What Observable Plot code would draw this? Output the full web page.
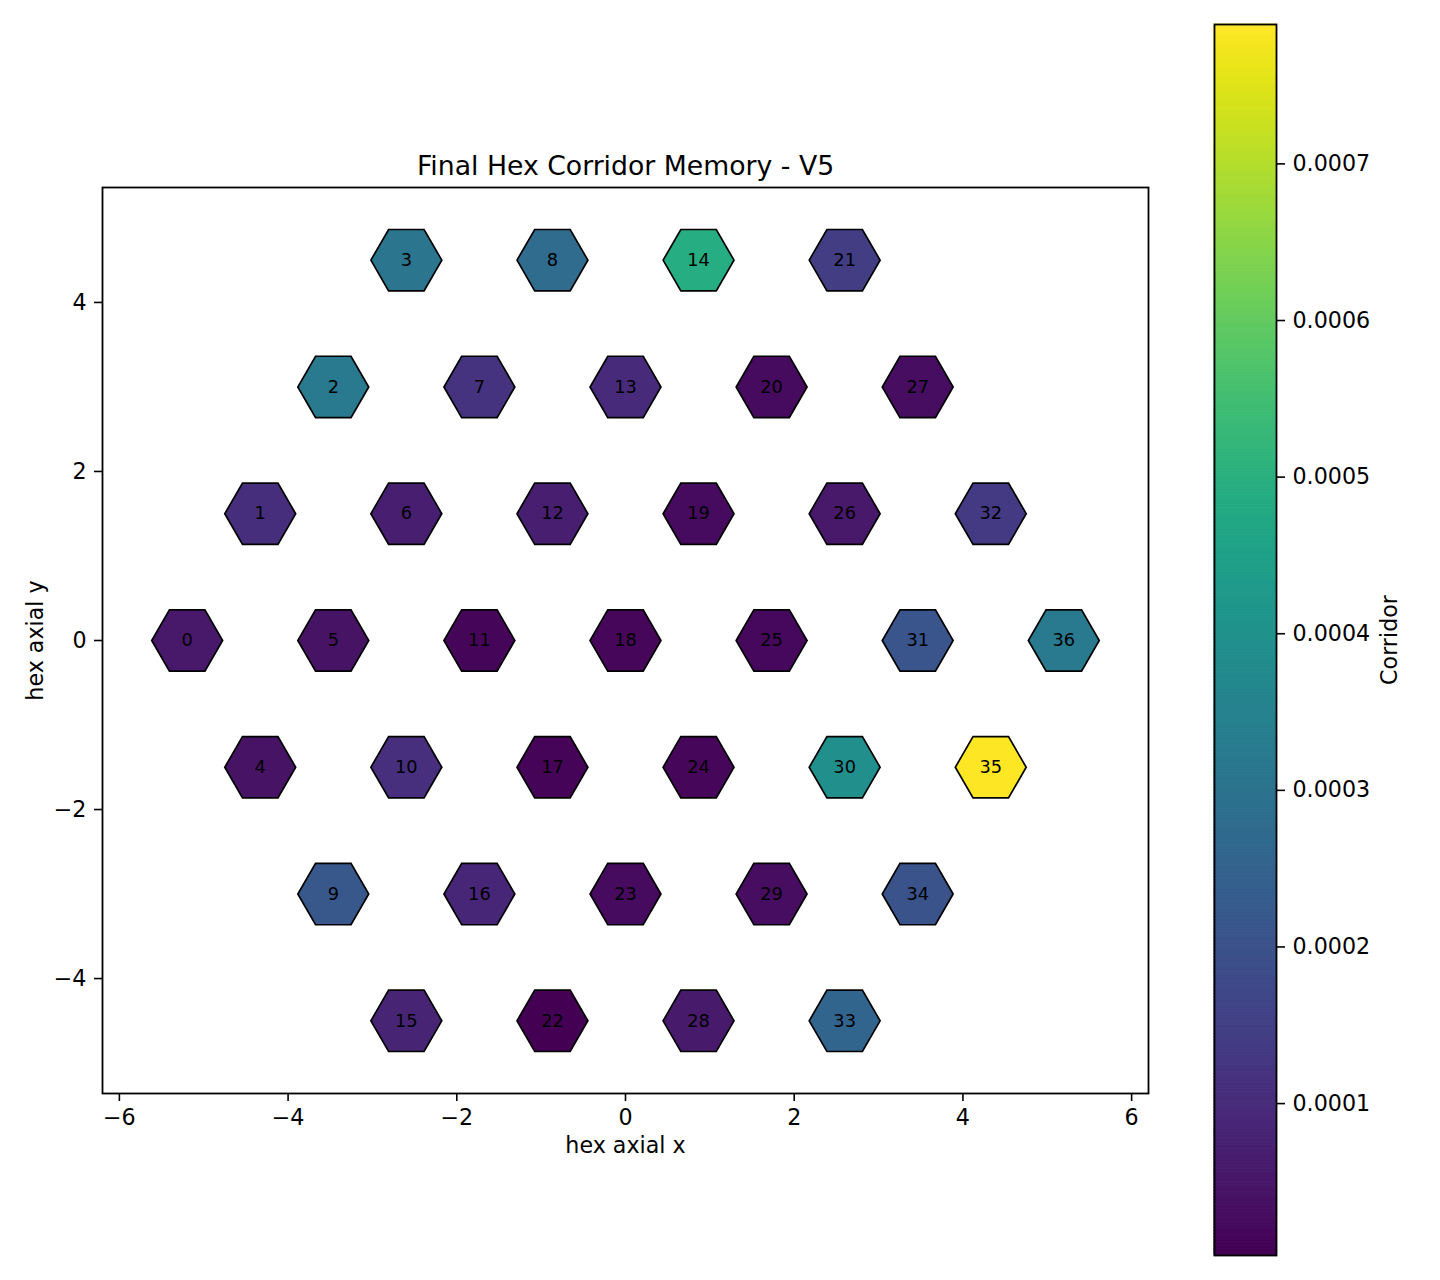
<!DOCTYPE html>
<html><head><meta charset="utf-8">
<script src="https://cdn.jsdelivr.net/npm/d3@7"></script>
<script src="https://cdn.jsdelivr.net/npm/@observablehq/plot@0.6"></script>
<style>
body{margin:0;background:#fff;}
#wrap{position:relative;width:1440px;height:1280px;background:#fff;overflow:hidden;}
#wrap svg{position:absolute;top:0;}
</style></head><body><div id="wrap"></div>
<script>
const chartTitle = "Final Hex Corridor Memory - V5";
const xLabel = "hex axial x";
const yLabel = "hex axial y";
const colorLabel = "Corridor";

const cellIds = [0,1,2,3,4,5,6,7,8,9,10,11,12,13,14,15,16,17,18,19,20,21,22,23,24,25,26,27,28,29,30,31,32,33,34,35,36];
const hexQ = [-3,-3,-3,-3, -2,-2,-2,-2,-2, -1,-1,-1,-1,-1,-1, 0,0,0,0,0,0,0, 1,1,1,1,1,1, 2,2,2,2,2, 3,3,3,3];
const hexR = [0,1,2,3, -1,0,1,2,3, -2,-1,0,1,2,3, -3,-2,-1,0,1,2,3, -3,-2,-1,0,1,2, -3,-2,-1,0,1, -3,-2,-1,0];
const corridor = [
  0.000054, 0.000105, 0.000325, 0.000310, 0.000042, 0.000042, 0.000070, 0.000117, 0.000278, 0.000215,
  0.000109, 0.000015, 0.000070, 0.000097, 0.000490, 0.000082, 0.000086, 0.000011, 0.000017, 0.000027,
  0.000025, 0.000144, 0.000003, 0.000025, 0.000017, 0.000020, 0.000054, 0.000029, 0.000056, 0.000030,
  0.000396, 0.000207, 0.000133, 0.000255, 0.000203, 0.000789, 0.000325
];
const xTicks = [-6, -4, -2, 0, 2, 4, 6];
const yTicks = [-4, -2, 0, 2, 4];
const colorTicks = [0.0001, 0.0002, 0.0003, 0.0004, 0.0005, 0.0006, 0.0007];

const SQ3 = Math.sqrt(3);
const cells = cellIds.map((id, i) => ({
  id,
  x: SQ3 * (hexQ[i] + hexR[i] / 2),
  y: 1.5 * hexR[i],
  value: corridor[i]
}));
const cDomain = d3.extent(corridor);
const FONT = "DejaVu Sans, sans-serif";
const wrap = document.getElementById("wrap");

const main = Plot.plot({
  width: 1180, height: 1280,
  marginLeft: 102, marginRight: 32, marginTop: 187, marginBottom: 187,
  x: {domain: [-6.2, 6.2], label: null},
  y: {domain: [-5.36, 5.36], label: null},
  color: {type: "linear", scheme: "viridis", domain: cDomain},
  style: {fontFamily: FONT, fontSize: "22.2px", color: "black", background: "transparent", overflow: "visible"},
  marks: [
    Plot.dot(cells, {x: "x", y: "y", fill: "value", r: 30.7, symbol: "hexagon", rotate: 90, stroke: "black", strokeWidth: 1.7}),
    Plot.text(cells, {x: "x", y: "y", text: "id", fill: "black", fontSize: 17.8}),
    Plot.frame({stroke: "black", strokeWidth: 1.8}),
    Plot.axisX({ticks: xTicks, tickSize: 8, tickPadding: 8, fontSize: 22.2, label: null, strokeWidth: 1.6}),
    Plot.axisY({ticks: yTicks, tickSize: 8, tickPadding: 8, fontSize: 22.2, label: null, strokeWidth: 1.6}),
    Plot.text([chartTitle], {frameAnchor: "top", text: d => d, textAnchor: "middle", lineAnchor: "bottom", dy: -13, fontSize: 26.7, fill: "black"}),
    Plot.text([xLabel], {frameAnchor: "bottom", text: d => d, textAnchor: "middle", lineAnchor: "bottom", dy: 59, fontSize: 22.2, fill: "black"}),
    Plot.text([yLabel], {frameAnchor: "left", text: d => d, textAnchor: "middle", lineAnchor: "bottom", rotate: -90, dx: -59.5, fontSize: 22.2, fill: "black"})
  ]
});
main.style.left = "0px";
wrap.appendChild(main);

const nSlices = 400;
const slices = d3.range(nSlices).map(i => {
  const a = cDomain[0] + (cDomain[1] - cDomain[0]) * i / nSlices;
  const b = cDomain[0] + (cDomain[1] - cDomain[0]) * (i + 1) / nSlices;
  return {y1: a, y2: b, v: (a + b) / 2};
});

const cbar = Plot.plot({
  width: 250, height: 1280,
  marginLeft: 24, marginRight: 164, marginTop: 24, marginBottom: 25,
  y: {domain: cDomain, label: null},
  color: {type: "linear", scheme: "viridis", domain: cDomain},
  style: {fontFamily: FONT, fontSize: "22.2px", color: "black", background: "transparent", overflow: "visible"},
  marks: [
    Plot.rect(slices, {y1: "y1", y2: "y2", fill: "v", stroke: "v", strokeWidth: 1}),
    Plot.frame({stroke: "black", strokeWidth: 1.8}),
    Plot.axisY({anchor: "right", ticks: colorTicks, tickFormat: d3.format(".4f"), tickSize: 8, tickPadding: 8, fontSize: 22.2, label: null, strokeWidth: 1.6}),
    Plot.text([colorLabel], {frameAnchor: "right", text: d => d, textAnchor: "middle", lineAnchor: "bottom", rotate: -90, dx: 120, fontSize: 22.2, fill: "black"})
  ]
});
cbar.style.left = "1190px";
wrap.appendChild(cbar);
</script>
</body></html>
